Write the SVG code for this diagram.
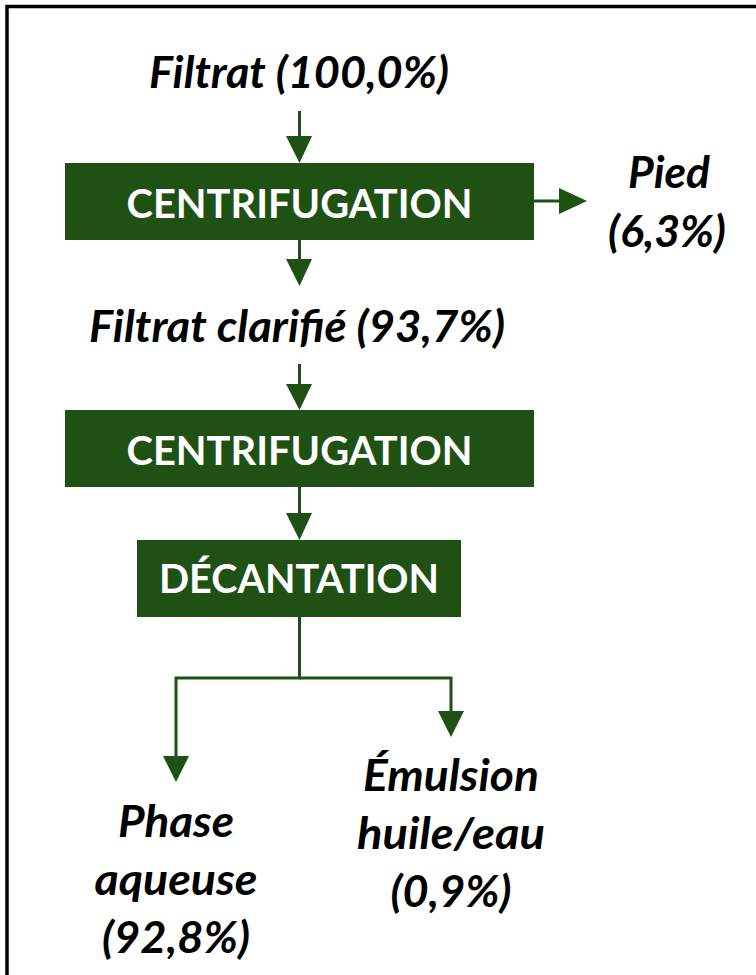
<svg xmlns="http://www.w3.org/2000/svg" width="756" height="975" viewBox="0 0 756 975">
<defs>
<style>
.box{fill:#1f5115}
.bt{font-family:Lato,"Liberation Sans",sans-serif;font-weight:bold;font-size:40px;fill:#fff;text-anchor:middle}
.lt{font-family:Lato,"Liberation Sans",sans-serif;font-weight:bold;font-style:italic;font-size:43px;fill:#000;text-anchor:middle}
.ln{fill:none;stroke:#1f5115;stroke-width:3}
.hd{fill:#1f5115}
</style>
</defs>
<rect x="7" y="6.5" width="800" height="1000" fill="#fff" stroke="#000" stroke-width="3.5"/>
<g id="connectors">
<line class="ln" x1="299.5" y1="111" x2="299.5" y2="140"/>
<polygon class="hd" points="286,136 312,136 299.5,163"/>
<line class="ln" x1="299.5" y1="240" x2="299.5" y2="262"/>
<polygon class="hd" points="286,259 312,259 299.5,286"/>
<line class="ln" x1="534" y1="201" x2="562" y2="201"/>
<polygon class="hd" points="559,188 559,214 587,201"/>
<line class="ln" x1="299.5" y1="364" x2="299.5" y2="388"/>
<polygon class="hd" points="286,384 312,384 299.5,410"/>
<line class="ln" x1="299.5" y1="487" x2="299.5" y2="517"/>
<polygon class="hd" points="286,513 312,513 299.5,540"/>
<polyline class="ln" points="299.5,617 299.5,678 176,678 176,760"/>
<polygon class="hd" points="163,756 189,756 176,782"/>
<polyline class="ln" points="299.5,678 451,678 451,715"/>
<polygon class="hd" points="438,711 464,711 451,737"/>
</g>
<g id="filtrat"><text class="lt" x="299" y="88" textLength="300" lengthAdjust="spacingAndGlyphs">Filtrat (100,0%)</text></g>
<g id="centrifugation1">
<rect class="box" x="65" y="163" width="469" height="77"/>
<text class="bt" x="299.5" y="218" textLength="346" lengthAdjust="spacingAndGlyphs">CENTRIFUGATION</text>
</g>
<g id="pied">
<text class="lt" x="669" y="188" textLength="82" lengthAdjust="spacingAndGlyphs">Pied</text>
<text class="lt" x="667" y="247" textLength="118" lengthAdjust="spacingAndGlyphs">(6,3%)</text>
</g>
<g id="filtrat-clarifie"><text class="lt" x="297" y="342" textLength="416" lengthAdjust="spacingAndGlyphs">Filtrat clarifié (93,7%)</text></g>
<g id="centrifugation2">
<rect class="box" x="65" y="410" width="469" height="77"/>
<text class="bt" x="299.5" y="465" textLength="346" lengthAdjust="spacingAndGlyphs">CENTRIFUGATION</text>
</g>
<g id="decantation">
<rect class="box" x="137" y="540" width="324" height="77"/>
<text class="bt" x="299" y="593" textLength="280" lengthAdjust="spacingAndGlyphs">DÉCANTATION</text>
</g>
<g id="phase-aqueuse">
<text class="lt" x="176" y="837" textLength="116" lengthAdjust="spacingAndGlyphs">Phase</text>
<text class="lt" x="176" y="895" textLength="163" lengthAdjust="spacingAndGlyphs">aqueuse</text>
<text class="lt" x="176" y="953" textLength="148" lengthAdjust="spacingAndGlyphs">(92,8%)</text>
</g>
<g id="emulsion">
<text class="lt" x="451" y="791" textLength="176" lengthAdjust="spacingAndGlyphs">Émulsion</text>
<text class="lt" x="451" y="849" textLength="188" lengthAdjust="spacingAndGlyphs">huile/eau</text>
<text class="lt" x="451" y="907" textLength="121" lengthAdjust="spacingAndGlyphs">(0,9%)</text>
</g>
</svg>
